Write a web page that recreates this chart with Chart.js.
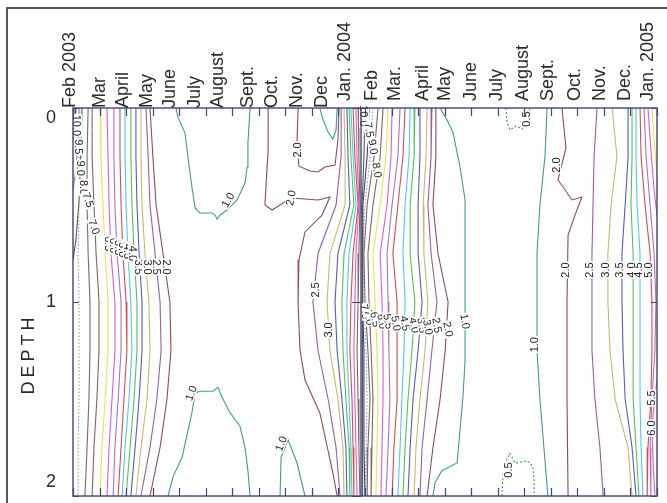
<!DOCTYPE html>
<html>
<head>
<meta charset="utf-8">
<script src="https://cdn.jsdelivr.net/npm/chart.js@4/dist/chart.umd.min.js"></script>
<style>
  html, body { margin: 0; padding: 0; background: #fff; }
  #wrap { width: 667px; height: 503px; position: relative; }
</style>
</head>
<body>
<div id="wrap"><canvas id="c" width="667" height="503"></canvas></div>
<script>
// Time axis: months counted from Feb 2003 (0) to Dec 2004 (22). Depth in m.
const monthTicks = [0,1,2,3,4,5,6,7,8,9,10,11,12,13,14,15,16,17,18,19,20,21,22];
const depthTicks = [0, 1, 2];
const panelBreak = 10.85;   // start of the 2004 survey

// sampling dates written along the top axis
const monthLabels2003 = ['Feb 2003','Mar','April','May','June','July','August  ','Sept.','Oct.','Nov.','Dec'];
const monthPos2003    = [-0.11, 1.02, 1.88, 2.79, 3.65, 4.60, 5.46, 6.59, 7.50, 8.44, 9.38];
const monthLabels2004 = ['Jan. 2004','Feb','Mar.','April','May','June','July','August','Sept.','Oct.','Nov.','Dec.','Jan. 2005'];
const monthPos2004    = [10.25, 11.26, 12.13, 13.19, 14.01, 14.99, 15.97, 16.95, 17.89, 18.91, 19.85, 20.80, 21.66];

// depths at which the near-vertical isolines are sampled
const depthRows = [0, 0.25, 0.5, 0.75, 1, 1.25, 1.5, 1.75, 2];

// --- spring 2003 isolines (month at each depthRow) ---
const spring03_80 = [0.26,0.23,0.23,0.19,0.23,0.23,0.23,0.19,0.19];
const spring03_75 = [0.57,0.53,0.53,0.57,0.64,0.64,0.60,0.53,0.45];
const spring03_70 = [0.72,0.72,0.79,0.87,0.98,0.98,0.90,0.79,0.72];
const spring03_65 = [1.02,1.05,1.13,1.21,1.32,1.32,1.21,1.09,1.02];
const spring03_60 = [1.28,1.32,1.36,1.43,1.58,1.58,1.47,1.36,1.28];
const spring03_55 = [1.54,1.54,1.58,1.66,1.81,1.81,1.70,1.58,1.51];
const spring03_50 = [1.77,1.77,1.81,1.88,2.00,2.03,1.92,1.81,1.70];
const spring03_45 = [1.96,1.96,2.00,2.07,2.18,2.22,2.11,1.96,1.85];
const spring03_40 = [2.18,2.18,2.22,2.30,2.41,2.41,2.30,2.15,2.00];
const spring03_35 = [2.37,2.37,2.41,2.49,2.60,2.60,2.49,2.34,2.18];
const spring03_30 = [2.56,2.56,2.60,2.71,2.86,2.90,2.79,2.56,2.37];
const spring03_25 = [2.75,2.83,2.90,3.09,3.28,3.32,3.16,2.90,2.56];
const spring03_20 = [2.90,3.01,3.13,3.39,3.65,3.69,3.54,3.28,2.90];
// surface isolines that run into the Feb 2003 edge
const feb03_90_m  = [0.34,0.30,0.23,0.11,0];
const feb03_90_d  = [0,0.216,0.474,0.68,0.784];
const feb03_95_m  = [0.23,0.19,0.11,0];
const feb03_95_d  = [0,0.165,0.32,0.423];
const feb03_100_m = [0.11,0.08,0];
const feb03_100_d = [0,0.088,0.165];

// --- summer / autumn 2003 ---
const summer03Top_m = [3.88,3.95,4.22,4.33,4.48,4.60,4.78,5.24,5.35,5.43,5.54,5.80,6.18,6.48,6.56,6.59,6.67];
const summer03Top_d = [0,0.046,0.129,0.253,0.407,0.515,0.541,0.541,0.552,0.572,0.552,0.526,0.474,0.387,0.304,0.180,0];
const summer03Bot_m = [3.58,3.77,4.11,4.48,4.60,4.78,5.27,5.46,5.61,5.91,6.29,6.48,6.59,6.67];
const summer03Bot_d = [2,1.90,1.80,1.57,1.47,1.46,1.46,1.44,1.49,1.57,1.64,1.75,1.87,2];
const oct03Bot_m = [7.80,7.84,8.10,8.44,8.74];
const oct03Bot_d = [2,1.80,1.71,1.83,2];
const dec03Top10_m = [9.30,9.42,9.61,9.79,9.91,9.95];
const dec03Top10_d = [0,0.062,0.124,0.16,0.113,0];
const nov03Top20_m = [8.48,8.44,8.51,8.93,9.23,9.49,9.87,9.98,10.02];
const nov03Top20_d = [0,0.165,0.30,0.325,0.33,0.304,0.294,0.165,0];
const sep03_20_m = [7.35,7.35,7.23,7.50,8.21,9.23,9.68,9.38,8.74,8.51,8.48,8.55,8.74,9.30,9.79,9.95];
const sep03_20_d = [0,0.216,0.50,0.526,0.464,0.474,0.459,0.552,0.639,0.784,1.01,1.247,1.402,1.572,1.881,2];

// --- winter 2003/04, west of the break (month at each depthRow) ---
const winter03_25 = [10.10,10.10,9.91,9.23,9.04,9.23,9.61,9.91,10.06];
const winter03_30 = [10.21,10.25,10.25,9.68,9.57,9.68,9.98,10.17,10.21];
const winter03_35 = [10.32,10.36,10.43,9.98,9.87,9.95,10.13,10.28,10.32];
const winter03_40 = [10.40,10.47,10.58,10.21,10.13,10.17,10.28,10.40,10.43];
const winter03_45 = [10.47,10.55,10.66,10.40,10.32,10.32,10.40,10.47,10.51];
const winter03_50 = [10.55,10.62,10.74,10.55,10.47,10.43,10.51,10.55,10.58];
const winter03_60 = [10.66,10.70,10.77,10.66,10.62,10.58,10.62,10.66,10.70];
const winter03_70 = [10.74,10.77,10.81,10.77,10.74,10.70,10.74,10.77,10.81];

// --- winter / spring 2004, east of the break ---
const spring04_90 = [11.00,10.96,10.89,10.89,10.89,10.92,10.92,10.92,10.92];
const spring04_85 = [11.15,11.08,10.92,10.89,10.92,10.96,10.96,10.96,11.00];
const spring04_80 = [11.30,11.19,11.00,10.92,10.96,11.04,11.08,11.04,11.00];
const spring04_75 = [11.49,11.34,11.08,10.96,11.00,11.11,11.19,11.11,11.08];
const spring04_70 = [11.68,11.57,11.30,11.11,11.15,11.23,11.30,11.26,11.23];
const spring04_65 = [11.87,11.79,11.57,11.30,11.38,11.45,11.49,11.45,11.41];
const spring04_60 = [12.02,11.98,11.83,11.57,11.64,11.68,11.68,11.64,11.60];
const spring04_55 = [12.32,12.24,12.02,11.83,11.87,11.90,11.94,11.87,11.79];
const spring04_50 = [12.51,12.43,12.24,12.05,12.21,12.21,12.21,12.09,12.02];
const spring04_45 = [12.70,12.66,12.51,12.43,12.51,12.47,12.39,12.32,12.24];
const spring04_40 = [12.88,12.85,12.70,12.70,12.88,12.77,12.62,12.51,12.43];
const spring04_35 = [13.07,13.07,13.00,13.00,13.15,13.00,12.81,12.70,12.62];
const spring04_30 = [13.34,13.30,13.19,13.22,13.37,13.26,13.07,12.92,12.85];
const spring04_25 = [13.52,13.49,13.37,13.49,13.71,13.52,13.34,13.15,13.07];
const spring04_20 = [13.67,13.67,13.56,13.75,14.13,14.02,13.83,13.56,13.34];
const may04_10_m = [13.83,14.09,14.32,14.58,14.77,14.77,14.77,14.69,14.47,13.90,13.64,13.56];
const may04_10_d = [0,0.062,0.129,0.304,0.474,0.99,1.30,1.49,1.83,1.87,1.93,2];

// --- summer 2004 low patches ---
const aug04Top05_m = [16.31,16.35,16.46,16.69,16.91,17.10,17.22];
const aug04Top05_d = [0,0.072,0.113,0.093,0.108,0.072,0];
const aug04Bot05_m = [16.16,16.20,16.27,16.46,16.65,17.10,17.22,17.33,17.37,17.37];
const aug04Bot05_d = [2,1.90,1.83,1.78,1.83,1.82,1.83,1.85,1.92,2];

// --- autumn 2004 (month at each depthRow unless paired with depths) ---
const autumn04_10 = [17.86,17.78,17.59,17.48,17.48,17.48,17.59,17.74,17.89];
const autumn04_20_m = [18.42,18.57,18.27,18.80,19.17,18.91,18.65,18.61,18.61,18.65];
const autumn04_20_d = [0,0.206,0.371,0.474,0.459,0.552,0.655,0.99,1.505,2];
const autumn04_25 = [19.74,19.63,19.59,19.55,19.55,19.55,19.66,19.85,19.97];
const autumn04_30 = [20.31,20.49,20.27,20.15,20.15,20.23,20.42,20.91,21.06];
const autumn04_35 = [20.91,20.91,20.80,20.68,20.68,20.72,20.80,21.06,21.21];
const autumn04_40 = [21.06,21.06,21.02,21.10,21.10,21.10,21.10,21.21,21.32];
const autumn04_45 = [21.21,21.21,21.25,21.36,21.36,21.36,21.36,21.40,21.47];
const autumn04_50 = [21.36,21.40,21.55,21.74,21.81,21.81,21.77,21.66,21.63];
const autumn04_55 = [21.51,21.59,21.74,21.89,21.96,21.92,21.81,21.74,21.77];
const dec04Top60_m = [21.66,21.77,21.89,22.0];
const dec04Top60_d = [0,0.216,0.423,0.552];
const dec04Bot60_m = [22.0,21.89,21.81,21.85,21.92];
const dec04Bot60_d = [1.40,1.53,1.65,1.81,2];
const dec04Top65_m = [21.81,21.92,22.0];
const dec04Top65_d = [0,0.216,0.345];

// contour labels: value, month, depth, text angle
const contourLabels = [
  ['10.0',0.15,0.09,90],['9.5',0.22,0.20,90],['9.0',0.27,0.31,90],['8.0',0.38,0.41,90],
  ['7.5',0.57,0.474,70],['7.0',0.79,0.613,70],
  ['6.5',1.32,0.70,90],['6.0',1.51,0.71,90],['5.5',1.70,0.72,90],['5.0',1.88,0.73,90],
  ['4.5',2.07,0.74,90],['4.0',2.26,0.75,90],['3.5',2.45,0.82,90],['3.0',2.79,0.82,90],
  ['2.5',3.16,0.82,90],['2.0',3.54,0.82,90],
  ['1.0',5.84,0.474,-60],['1.0',4.45,1.47,-70],['1.0',7.84,1.73,-70],
  ['2.0',8.46,0.216,-90],['2.0',8.21,0.464,-80],['2.5',9.12,0.938,-90],['3.0',9.61,1.144,-90],
  ['10.0',10.96,0.041,90],['7.5',11.15,0.113,80],['9.0',11.30,0.20,80],['8.0',11.45,0.32,80],
  ['7.5',11.00,1.05,80],['7.0',11.15,1.08,80],['6.5',11.38,1.09,80],['6.0',11.64,1.10,80],
  ['5.5',11.87,1.10,80],['5.0',12.17,1.11,80],['4.5',12.51,1.11,80],['4.0',12.85,1.12,80],
  ['3.5',13.15,1.12,80],['3.0',13.37,1.13,80],['2.5',13.71,1.12,80],['2.0',14.13,1.14,80],
  ['1.0',14.77,1.10,80],
  ['0.5',17.10,0.057,-90],['0.5',16.39,1.866,-90],['1.0',17.40,1.22,-90],['2.0',18.20,0.294,-90],
  ['2.0',18.55,0.835,-90],['2.5',19.45,0.835,-90],['3.0',20.05,0.835,-90],['3.5',20.60,0.835,-90],
  ['4.0',21.02,0.835,-90],['4.5',21.30,0.835,-90],['5.0',21.68,0.835,-90],
  ['5.5',21.81,1.495,-90],['6.0',21.81,1.65,-90]
];

// ---------- drawing ----------
const levelColor = {
  '0.5': '#3f9a3f', '1.0': '#3a9c9c', '2.0': '#8e4a5c', '2.5': '#9c5c9c',
  '3.0': '#c2bc6c', '3.5': '#5a5ab4', '4.0': '#52c452', '4.5': '#4ccbe0',
  '5.0': '#d44c4c', '5.5': '#b06cc0', '6.0': '#e25ad2', '6.5': '#e6e64e',
  '7.0': '#8a6450', '7.5': '#6e6e6e', '8.0': '#9a9aa4', '8.5': '#3c3c84',
  '9.0': '#555560', '9.5': '#8a8a8a', '10.0': '#3c3c84'
};
const dashed = { '0.5': [2, 2], '8.0': [1.5, 2] };

const isolines = [
  ['8.0', spring03_80], ['7.5', spring03_75], ['7.0', spring03_70], ['6.5', spring03_65],
  ['6.0', spring03_60], ['5.5', spring03_55], ['5.0', spring03_50], ['4.5', spring03_45],
  ['4.0', spring03_40], ['3.5', spring03_35], ['3.0', spring03_30], ['2.5', spring03_25],
  ['2.0', spring03_20],
  ['9.0', feb03_90_m, feb03_90_d], ['9.5', feb03_95_m, feb03_95_d], ['10.0', feb03_100_m, feb03_100_d],
  ['1.0', summer03Top_m, summer03Top_d], ['1.0', summer03Bot_m, summer03Bot_d],
  ['1.0', oct03Bot_m, oct03Bot_d], ['1.0', dec03Top10_m, dec03Top10_d],
  ['2.0', nov03Top20_m, nov03Top20_d], ['2.0', sep03_20_m, sep03_20_d],
  ['2.5', winter03_25], ['3.0', winter03_30], ['3.5', winter03_35], ['4.0', winter03_40],
  ['4.5', winter03_45], ['5.0', winter03_50], ['6.0', winter03_60], ['7.0', winter03_70],
  ['9.0', spring04_90], ['8.5', spring04_85], ['8.0', spring04_80], ['7.5', spring04_75],
  ['7.0', spring04_70], ['6.5', spring04_65], ['6.0', spring04_60], ['5.5', spring04_55],
  ['5.0', spring04_50], ['4.5', spring04_45], ['4.0', spring04_40], ['3.5', spring04_35],
  ['3.0', spring04_30], ['2.5', spring04_25], ['2.0', spring04_20],
  ['1.0', may04_10_m, may04_10_d],
  ['0.5', aug04Top05_m, aug04Top05_d], ['0.5', aug04Bot05_m, aug04Bot05_d],
  ['1.0', autumn04_10], ['2.0', autumn04_20_m, autumn04_20_d], ['2.5', autumn04_25],
  ['3.0', autumn04_30], ['3.5', autumn04_35], ['4.0', autumn04_40], ['4.5', autumn04_45],
  ['5.0', autumn04_50], ['5.5', autumn04_55],
  ['6.0', dec04Top60_m, dec04Top60_d], ['6.0', dec04Bot60_m, dec04Bot60_d],
  ['6.5', dec04Top65_m, dec04Top65_d]
];

const datasets = isolines.map(([level, months, depths]) => ({
  label: level,
  data: months.map((m, i) => ({ x: m, y: (depths || depthRows)[i] })),
  showLine: true,
  borderColor: levelColor[level],
  borderWidth: 1.1,
  borderDash: dashed[level] || [],
  pointRadius: 0,
  fill: false,
  tension: 0
}));

const FONT = '"Liberation Sans", Arial, sans-serif';
const AXIS = '#44447a';

const framePlugin = {
  id: 'frame',
  beforeDraw(chart) {
    const ctx = chart.ctx;
    ctx.save();
    ctx.fillStyle = '#fff';
    ctx.fillRect(0, 0, chart.width, chart.height);
    ctx.strokeStyle = '#555';
    ctx.lineWidth = 2;
    ctx.strokeRect(7, 8, chart.width + 10, chart.height + 10);
    ctx.restore();
  },
  afterDatasetsDraw(chart) {
    const ctx = chart.ctx, xs = chart.scales.x, ys = chart.scales.y, a = chart.chartArea;
    ctx.save();

    // contour labels
    ctx.font = '11px ' + FONT;
    ctx.textAlign = 'center';
    ctx.textBaseline = 'middle';
    contourLabels.forEach(([t, m, d, ang]) => {
      const px = xs.getPixelForValue(m), py = ys.getPixelForValue(d);
      ctx.save();
      ctx.translate(px, py);
      ctx.rotate(ang * Math.PI / 180);
      const w = ctx.measureText(t).width;
      ctx.fillStyle = '#fff';
      ctx.fillRect(-w / 2 - 1, -5, w + 2, 10);
      ctx.fillStyle = '#222';
      ctx.fillText(t, 0, 0.5);
      ctx.restore();
    });

    // plot frame and panel break
    ctx.strokeStyle = AXIS;
    ctx.lineWidth = 1.4;
    ctx.strokeRect(a.left, a.top, a.right - a.left, a.bottom - a.top);
    const bx = xs.getPixelForValue(panelBreak);
    ctx.beginPath();
    ctx.moveTo(bx, a.top); ctx.lineTo(bx, a.bottom);
    ctx.stroke();

    // month ticks, top and bottom
    ctx.lineWidth = 1.2;
    ctx.beginPath();
    monthTicks.forEach(m => {
      const x = Math.round(xs.getPixelForValue(m)) + 0.5;
      ctx.moveTo(x, a.top); ctx.lineTo(x, a.top + 8);
      ctx.moveTo(x, a.bottom); ctx.lineTo(x, a.bottom - 8);
    });
    // depth ticks
    depthTicks.forEach(d => {
      const y = Math.round(ys.getPixelForValue(d)) + 0.5;
      ctx.moveTo(a.left, y); ctx.lineTo(a.left + 6, y);
      ctx.moveTo(bx, y); ctx.lineTo(bx - 9, y);
      ctx.moveTo(a.right, y); ctx.lineTo(a.right - 6, y);
    });
    ctx.stroke();

    // month labels, rotated
    ctx.fillStyle = '#2a2a2a';
    ctx.font = '18px ' + FONT;
    ctx.textAlign = 'left';
    ctx.textBaseline = 'middle';
    const drawMonths = (labels, pos, yStart) => {
      labels.forEach((t, i) => {
        const x = xs.getPixelForValue(pos[i]);
        ctx.save();
        ctx.translate(x, yStart);
        ctx.rotate(-Math.PI / 2);
        ctx.fillText(t, 0, 0);
        ctx.restore();
      });
    };
    drawMonths(monthLabels2003, monthPos2003, a.top);
    drawMonths(monthLabels2004, monthPos2004, a.top - 7);

    // depth tick labels
    ctx.textAlign = 'center';
    depthTicks.forEach(d => {
      let y = ys.getPixelForValue(d);
      y = Math.min(Math.max(y, a.top + 10), a.bottom - 14);
      ctx.fillText(String(d), 51, y);
    });

    // axis title with wide letter spacing
    const title = 'DEPTH', spacing = 4;
    ctx.font = '18px ' + FONT;
    const widths = [...title].map(ch => ctx.measureText(ch).width);
    const total = widths.reduce((s, w) => s + w, 0) + spacing * (title.length - 1);
    ctx.save();
    ctx.translate(29, 356);
    ctx.rotate(-Math.PI / 2);
    ctx.textAlign = 'left';
    let cx = -total / 2;
    [...title].forEach((ch, i) => { ctx.fillText(ch, cx, 0); cx += widths[i] + spacing; });
    ctx.restore();

    ctx.restore();
  }
};

new Chart(document.getElementById('c'), {
  type: 'scatter',
  data: { datasets },
  options: {
    responsive: false,
    animation: false,
    events: [],
    layout: { padding: { left: 73, right: 10, top: 108, bottom: 7 } },
    plugins: { legend: { display: false }, tooltip: { enabled: false } },
    scales: {
      x: { type: 'linear', min: 0, max: 22, display: false },
      y: { type: 'linear', min: 0, max: 2, reverse: true, display: false }
    },
    elements: { point: { radius: 0 }, line: { tension: 0 } }
  },
  plugins: [framePlugin]
});
</script>
</body>
</html>
